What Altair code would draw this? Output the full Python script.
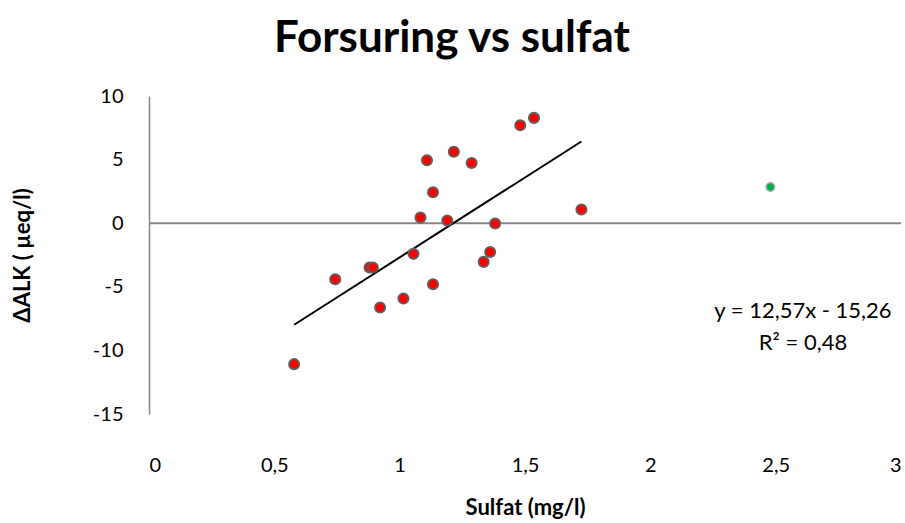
import altair as alt
import pandas as pd

# Measurements: sulfate (mg/l) against change in alkalinity (µeq/l)
sulfat = [0.579, 0.743, 0.880, 0.893, 0.922, 1.015, 1.055, 1.083, 1.109, 1.133,
          1.133, 1.190, 1.216, 1.287, 1.335, 1.361, 1.381, 1.481, 1.536, 1.725]
dalk = [-11.08, -4.40, -3.48, -3.48, -6.63, -5.92, -2.41, 0.45, 4.95, 2.44,
        -4.80, 0.21, 5.61, 4.74, -3.04, -2.26, -0.02, 7.70, 8.28, 1.08]

# Excluded site (drawn separately in green)
out_sulfat = [2.479]
out_dalk = [2.85]

# Linear trend
slope = 12.57
intercept = -15.26
eq_text = "y = 12,57x - 15,26\nR² = 0,48"

x_ticks = [0, 0.5, 1, 1.5, 2, 2.5, 3]
y_ticks = [-15, -10, -5, 0, 5, 10]

FONT = "Lato"

pts = pd.DataFrame({"x": sulfat, "y": dalk})
out = pd.DataFrame({"x": out_sulfat, "y": out_dalk})
xmin, xmax = min(sulfat), max(sulfat)
trend = pd.DataFrame({"x": [xmin, xmax],
                      "y": [slope * xmin + intercept, slope * xmax + intercept]})
zero = pd.DataFrame({"x": [0], "x2": [3], "y": [0]})
note = pd.DataFrame({"x": [2.609], "y": [-6.92], "t": [eq_text]})

comma = "replace(toString(datum.value), '.', ',')"

xs = alt.Scale(domain=[0, 3], nice=False, zero=False)
ys = alt.Scale(domain=[-15, 10], nice=False, zero=False)

xaxis = alt.Axis(values=x_ticks, labelExpr=comma, domain=False, ticks=False, grid=False,
                 labelPadding=41, labelFontSize=20, labelFont=FONT, labelColor="#000000",
                 title="Sulfat (mg/l)", titleFont=FONT, titleFontSize=22, titleFontWeight="bold",
                 titlePadding=22, titleColor="#000000")
yaxis = alt.Axis(values=y_ticks, labelExpr=comma, domain=True, domainColor="#868686",
                 domainWidth=1.5, ticks=False, grid=False,
                 labelPadding=26, labelFontSize=20, labelFont=FONT, labelColor="#000000",
                 title="ΔALK ( µeq/l)", titleFont=FONT, titleFontSize=22, titleFontWeight="bold",
                 titlePadding=58, titleColor="#000000")

zero_line = alt.Chart(zero).mark_rule(color="#868686", strokeWidth=2).encode(
    x=alt.X("x:Q", scale=xs, axis=xaxis),
    x2="x2:Q",
    y=alt.Y("y:Q", scale=ys, axis=yaxis),
)

trend_line = alt.Chart(trend).mark_line(color="#000000", strokeWidth=2).encode(
    x=alt.X("x:Q", scale=xs), y=alt.Y("y:Q", scale=ys)
)

red = alt.Chart(pts).mark_point(filled=True, fill="#ff0000", stroke="#5f5f5f",
                                 strokeWidth=1.8, size=105, opacity=1, fillOpacity=1).encode(
    x=alt.X("x:Q", scale=xs), y=alt.Y("y:Q", scale=ys)
)

green = alt.Chart(out).mark_point(filled=True, fill="#00b050", stroke="#a6a6a6",
                                  strokeWidth=1.5, size=70, opacity=1, fillOpacity=1).encode(
    x=alt.X("x:Q", scale=xs), y=alt.Y("y:Q", scale=ys)
)

eq = alt.Chart(note).mark_text(font=FONT, fontSize=22, lineBreak="\n", lineHeight=32,
                               align="center", baseline="middle", color="#000000").encode(
    x=alt.X("x:Q", scale=xs), y=alt.Y("y:Q", scale=ys), text="t:N"
)

title = alt.Chart(pd.DataFrame({"t": ["Forsuring vs sulfat"]})).mark_text(
    font=FONT, fontSize=44, fontWeight="bold", align="center", baseline="middle",
    color="#000000"
).encode(x=alt.value(303), y=alt.value(-57), text="t:N")

chart = alt.layer(zero_line, trend_line, red, green, eq, title).properties(
    width=752, height=318,
    autosize=alt.AutoSizeParams(type="none"),
    padding={"left": 149, "top": 96, "right": 4, "bottom": 109},
    background="#ffffff",
).configure_view(stroke=None)

chart.save("out.html", embed_options={"renderer": "svg", "actions": False})
